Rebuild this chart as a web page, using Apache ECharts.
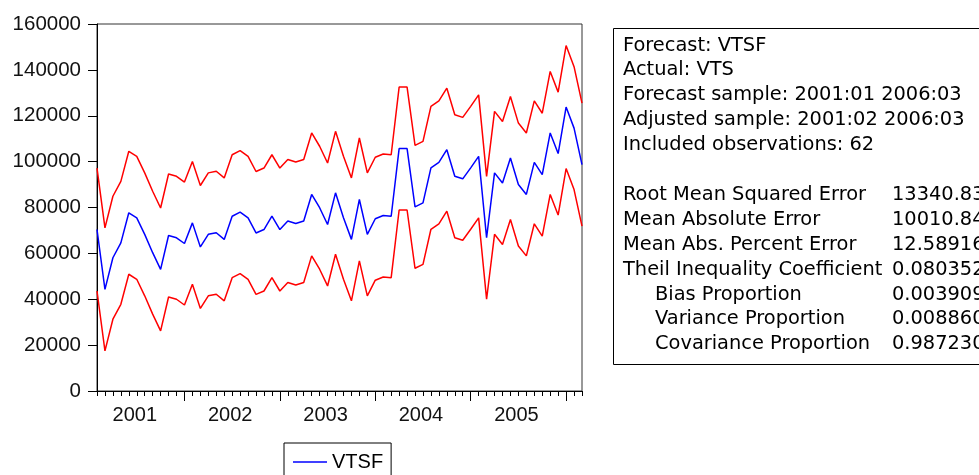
<!DOCTYPE html>
<html>
<head>
<meta charset="utf-8">
<script src="https://cdn.jsdelivr.net/npm/echarts@6/dist/echarts.min.js"></script>
<style>
html,body{margin:0;padding:0;background:#fff;}
#chart{width:979px;height:475px;}
</style>
</head>
<body>
<div id="chart"></div>
<script>
// Months 2001:02 .. 2006:03
var months = [
 '2001:02','2001:03','2001:04','2001:05','2001:06','2001:07','2001:08','2001:09','2001:10','2001:11','2001:12',
 '2002:01','2002:02','2002:03','2002:04','2002:05','2002:06','2002:07','2002:08','2002:09','2002:10','2002:11','2002:12',
 '2003:01','2003:02','2003:03','2003:04','2003:05','2003:06','2003:07','2003:08','2003:09','2003:10','2003:11','2003:12',
 '2004:01','2004:02','2004:03','2004:04','2004:05','2004:06','2004:07','2004:08','2004:09','2004:10','2004:11','2004:12',
 '2005:01','2005:02','2005:03','2005:04','2005:05','2005:06','2005:07','2005:08','2005:09','2005:10','2005:11','2005:12',
 '2006:01','2006:02','2006:03'
];
var yearLabels = ['2001','2002','2003','2004','2005'];
var yTicks = [0,20000,40000,60000,80000,100000,120000,140000,160000];

// Forecast VTSF
var vtsf = [
 70400,44300,58100,64600,77700,75500,68300,60300,53000,67800,66800,
 64300,73300,62800,68300,69000,66100,76200,78000,75500,68900,70400,76200,
 70400,74100,73000,74100,85700,79900,72600,86400,75500,66100,83500,68300,
 75100,76500,76200,105700,105700,80300,82000,97300,99700,105200,93600,92500,
 97300,102300,66800,95100,90700,101600,90000,85700,99700,94300,112500,103500,
 123800,114600,98700
];
// Upper band (+2 S.E.)
var upper = [
 97200,71100,84900,91400,104500,102300,95100,87100,79800,94600,93600,
 91100,100100,89600,95100,95800,92900,103000,104800,102300,95700,97200,103000,
 97200,100900,99800,100900,112500,106700,99400,113200,102300,92900,110300,95100,
 101900,103300,103000,132500,132500,107100,108800,124100,126500,132000,120400,119300,
 124100,129100,93600,121900,117500,128400,116800,112500,126500,121100,139300,130300,
 150600,141400,125500
];
// Lower band (-2 S.E.)
var lower = [
 43600,17500,31300,37800,50900,48700,41500,33500,26200,41000,40000,
 37500,46500,36000,41500,42200,39300,49400,51200,48700,42100,43600,49400,
 43600,47300,46200,47300,58900,53100,45800,59600,48700,39300,56700,41500,
 48300,49700,49400,78900,78900,53500,55200,70500,72900,78400,66800,65700,
 70500,75500,40000,68300,63900,74800,63200,58900,72900,67500,85700,76700,
 97000,87800,71900
];

var infoLines = [
 'Forecast: VTSF',
 'Actual: VTS',
 'Forecast sample: 2001:01 2006:03',
 'Adjusted sample: 2001:02 2006:03',
 'Included observations: 62'
];
var statNames = [
 'Root Mean Squared Error',
 'Mean Absolute Error',
 'Mean Abs. Percent Error',
 'Theil Inequality Coefficient',
 'Bias Proportion',
 'Variance Proportion',
 'Covariance Proportion'
];
var statIndent = [0,0,0,0,1,1,1];
var statValues = ['13340.83','10010.84','12.58916','0.080352','0.003909','0.008860','0.987230'];

var FONT = '"Liberation Sans", Arial, sans-serif';
var BOXFONT = '19.4px "DejaVu Sans", sans-serif';
var chart = echarts.init(document.getElementById('chart'), null, {renderer:'canvas'});

var graphics = [];
graphics.push({
  type:'rect', shape:{x:613.5,y:28.5,width:420,height:336},
  style:{fill:'#fff',stroke:'#000',lineWidth:1}, z:10
});
infoLines.forEach(function(t,i){
  graphics.push({type:'text', x:623, y:45.5+24.9*i, z:11,
    style:{text:t, font:BOXFONT, fill:'#000', textVerticalAlign:'middle'}});
});
statNames.forEach(function(t,i){
  graphics.push({type:'text', x:statIndent[i]?655:623, y:45.5+24.9*(i+6), z:11,
    style:{text:t, font:BOXFONT, fill:'#000', textVerticalAlign:'middle'}});
  graphics.push({type:'text', x:892, y:45.5+24.9*(i+6), z:11,
    style:{text:statValues[i], font:BOXFONT, fill:'#000', textVerticalAlign:'middle'}});
});

var option = {
  animation:false,
  backgroundColor:'#fff',
  grid:{left:97,right:397,top:24,bottom:84,show:true,borderColor:'#333',borderWidth:1,backgroundColor:'transparent'},
  legend:{
    data:['VTSF'], left:284, top:443,
    icon:'rect', itemWidth:34, itemHeight:1.5, itemGap:8,
    padding:[9,8,12,9], borderColor:'#000', borderWidth:1,
    textStyle:{fontFamily:FONT,fontSize:20,color:'#000',padding:[0,0,0,0]},
    itemStyle:{color:'#0000ff'}
  },
  xAxis:[{
    type:'category', data:months, boundaryGap:false,
    axisLine:{show:true,lineStyle:{color:'#000',width:1}},
    axisTick:{show:true,interval:0,length:5,lineStyle:{color:'#000'}},
    axisLabel:{
      show:true, margin:14, fontFamily:FONT, fontSize:20, color:'#111',
      padding:[0,4,0,0],
      interval:function(idx,val){return val.slice(5)==='07';},
      formatter:function(val){
        var y = val.slice(0,4);
        return yearLabels.indexOf(y)>=0 ? y : '';
      }
    },
    splitLine:{show:false}
  },{
    type:'category', data:months, boundaryGap:false, position:'bottom', gridIndex:0,
    axisLine:{show:false},
    axisTick:{show:true,length:10,lineStyle:{color:'#000'},
      interval:function(idx,val){return val.slice(5)==='01';}},
    axisLabel:{show:false},
    splitLine:{show:false}
  }],
  yAxis:{
    type:'value', min:0, max:160000, interval:20000,
    axisLine:{show:true,lineStyle:{color:'#000',width:1}},
    axisTick:{show:true,length:9,lineStyle:{color:'#000'}},
    axisLabel:{margin:16,fontFamily:FONT,fontSize:20.5,color:'#111',
      formatter:function(v){return yTicks.indexOf(v)>=0?String(v):'';}},
    splitLine:{show:false}
  },
  series:[
    {name:'upper',type:'line',data:upper,symbol:'none',lineStyle:{color:'#ff0000',width:1.5},itemStyle:{color:'#ff0000'},z:2},
    {name:'lower',type:'line',data:lower,symbol:'none',lineStyle:{color:'#ff0000',width:1.5},itemStyle:{color:'#ff0000'},z:2},
    {name:'VTSF',type:'line',data:vtsf,symbol:'none',lineStyle:{color:'#0000ff',width:1.5},itemStyle:{color:'#0000ff'},z:3}
  ],
  graphic:graphics
};
chart.setOption(option);
</script>
</body>
</html>
